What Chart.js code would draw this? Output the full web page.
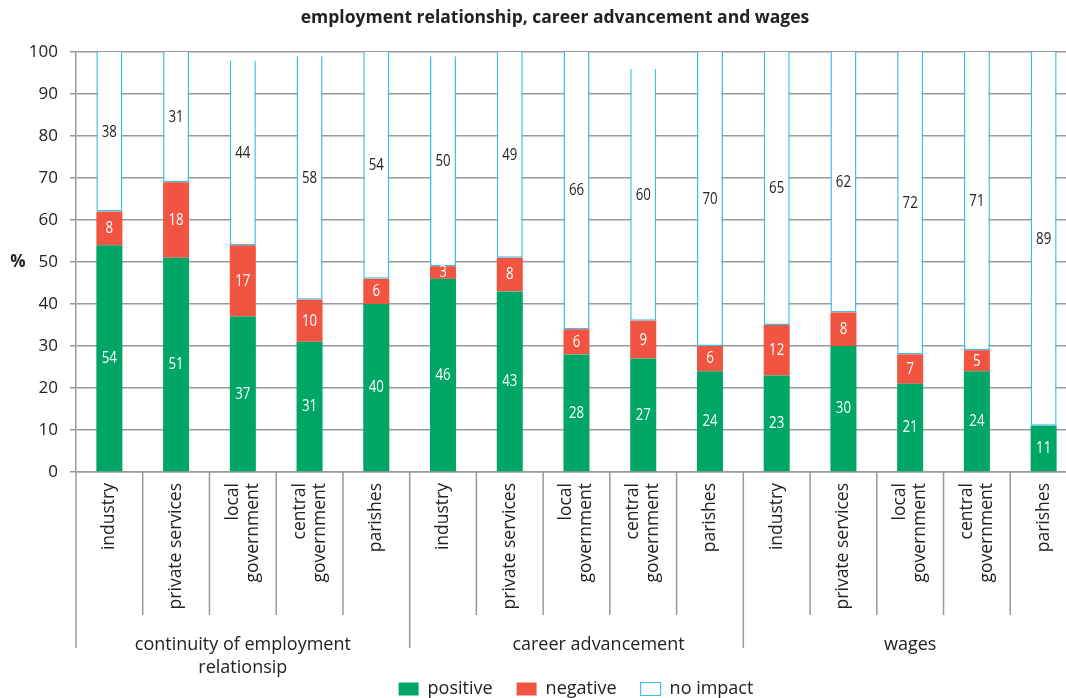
<!DOCTYPE html>
<html>
<head>
<meta charset="utf-8">
<script src="https://cdn.jsdelivr.net/npm/chart.js@4.4.0/dist/chart.umd.min.js"></script>
<style>
  html, body { margin: 0; padding: 0; background: #fff; overflow: hidden; }
  #wrap { width: 1066px; height: 698px; overflow: hidden; }
</style>
</head>
<body>
<div id="wrap"><canvas id="myChart" width="1152" height="708"></canvas></div>
<script>
// sectors repeat inside each group
const sectors = ['industry', 'private services', ['local', 'government'], ['central', 'government'], 'parishes'];
const groups = [['continuity of employment', 'relationsip'], ['career advancement'], ['wages']];

const positive = [54, 51, 37, 31, 40, 46, 43, 28, 27, 24, 23, 30, 21, 24, 11];
const negative = [8, 18, 17, 10, 6, 3, 8, 6, 9, 6, 12, 8, 7, 5, 0];
const noImpact = [38, 31, 44, 58, 54, 50, 49, 66, 60, 70, 65, 62, 72, 71, 89];

const yTicks = [0, 10, 20, 30, 40, 50, 60, 70, 80, 90, 100];

const labels = [];
groups.forEach(() => sectors.forEach(s => labels.push(s)));

const FONT = "'Open Sans', 'Noto Sans', sans-serif";
const lineGrey = '#999999';
const textCol = '#222222';

// numbers inside each segment + extra text around the plot
const extras = {
    id: 'extras',
    afterDatasetsDraw(chart) {
        const ctx = chart.ctx;
        ctx.save();
        ctx.textAlign = 'center';
        ctx.textBaseline = 'middle';
        ctx.font = '17px ' + FONT;
        chart.data.datasets.forEach((ds, i) => {
            const meta = chart.getDatasetMeta(i);
            meta.data.forEach((bar, j) => {
                const v = ds.data[j];
                if (!v) return;
                ctx.fillStyle = i == 2 ? textCol : '#fff';
                ctx.save();
                ctx.translate(bar.x, (bar.y + bar.base) / 2);
                ctx.scale(0.78, 1);   // narrow digits
                ctx.fillText(String(v), 0, 0);
                ctx.restore();
            });
        });
        ctx.restore();
    },
    afterDraw(chart) {
        const ctx = chart.ctx;
        const x = chart.scales.x;
        const y = chart.scales.y;
        const step = x.getPixelForValue(1) - x.getPixelForValue(0);
        const axisY = y.getPixelForValue(0);
        ctx.save();

        // separators below the axis
        ctx.strokeStyle = lineGrey;
        ctx.lineWidth = 1.5;
        for (let i = 0; i <= labels.length; i++) {
            const px = x.getPixelForValue(0) - step / 2 + i * step;
            const long = i % sectors.length == 0;
            ctx.beginPath();
            ctx.moveTo(px, axisY);
            ctx.lineTo(px, long ? 648 : 615);
            ctx.stroke();
        }

        ctx.fillStyle = textCol;

        // y tick numbers (the y box is only 1px wide, so they are drawn here)
        ctx.font = '17px ' + FONT;
        ctx.textAlign = 'right';
        ctx.textBaseline = 'middle';
        yTicks.forEach(v => ctx.fillText(String(v), y.left - 17, y.getPixelForValue(v)));

        // vertical category names, lines centred on the bar
        ctx.font = '17.5px ' + FONT;
        const lh = 20;
        labels.forEach((lab, i) => {
            const lines = Array.isArray(lab) ? lab : [lab];
            lines.forEach((line, n) => {
                ctx.save();
                ctx.translate(x.getPixelForValue(i) + (n - (lines.length - 1) / 2) * lh, axisY + 11);
                ctx.rotate(-Math.PI / 2);
                ctx.fillText(line, 0, 0);
                ctx.restore();
            });
        });

        // group names
        const shift = [0, 22, 0];
        ctx.textAlign = 'center';
        ctx.font = '18px ' + FONT;
        groups.forEach((g, k) => {
            const cx = x.getPixelForValue(0) - step / 2 + (k + 0.5) * sectors.length * step + shift[k];
            g.forEach((line, n) => ctx.fillText(line, cx, 645 + n * 23));
        });

        ctx.font = 'bold 17px ' + FONT;
        ctx.fillText('%', 18, y.getPixelForValue(50));
        ctx.font = 'bold 17.5px ' + FONT;
        ctx.fillText('employment relationship, career advancement and wages', 555, 18);
        ctx.restore();
    }
};

const data = {
    labels: labels,
    datasets: [{
        label: 'positive',
        backgroundColor: '#00a665',
        borderColor: '#00a665',
        borderWidth: 0,
        data: positive,
    },
    {
        label: 'negative',
        backgroundColor: '#f15441',
        borderColor: '#f15441',
        borderWidth: 0,
        data: negative,
    },
    {
        label: 'no impact',
        backgroundColor: '#ffffff',
        borderColor: '#3cbdea',
        borderWidth: {top: 0, left: 1.5, right: 1.5, bottom: 1.5},
        borderSkipped: false,
        data: noImpact,
    }]
};

const config = {
    type: 'bar',
    data: data,
    options: {
        responsive: false,
        animation: false,
        devicePixelRatio: 1,
        datasets: {
            bar: { categoryPercentage: 1, barPercentage: 0.39 }
        },
        // left padding + 1px y box keeps the plot at x=76 and the legend centred on the plot
        layout: { padding: { top: 52, right: 75, bottom: 0, left: 75 } },
        plugins: {
            tooltip: { enabled: false },
            legend: {
                position: 'bottom',
                labels: {
                    color: textCol,
                    font: { family: FONT, size: 18 },
                    boxWidth: 20,
                    boxHeight: 13,
                    padding: 24
                }
            }
        },
        scales: {
            x: {
                stacked: true,
                grid: { display: false },
                border: { display: true, color: lineGrey, width: 1.5 },
                afterFit: s => { s.height = 184; },
                ticks: { display: false }
            },
            y: {
                stacked: true,
                min: 0,
                max: 100,
                afterFit: s => { s.width = 1; },
                afterBuildTicks: s => { s.ticks = yTicks.map(v => ({ value: v })); },
                grid: { color: lineGrey, lineWidth: 1.5, tickLength: 6 },
                border: { color: lineGrey, width: 1.5 },
                ticks: { display: false }
            }
        }
    },
    plugins: [extras]
};

const myChart = new Chart(document.getElementById('myChart'), config);
</script>
</body>
</html>
